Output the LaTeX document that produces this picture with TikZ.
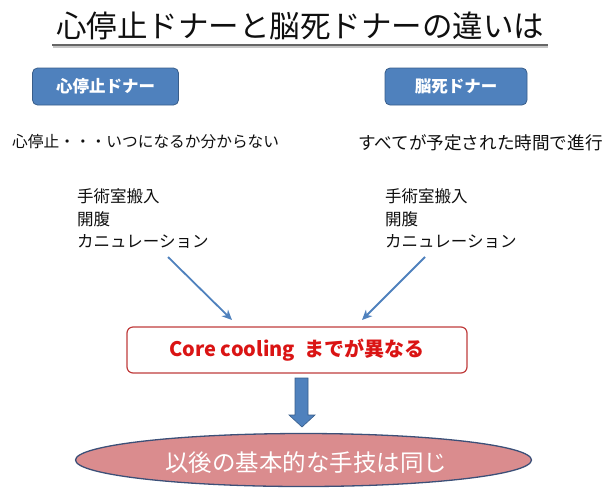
\documentclass[tikz,border=0pt]{standalone}
\usepackage{fontspec}
\setmainfont{Noto Sans CJK JP}
\usetikzlibrary{arrows.meta,shapes.geometric}
\definecolor{pptblue}{RGB}{79,129,189}
\definecolor{pptblueline}{RGB}{56,93,138}
\definecolor{ccred}{RGB}{218,20,20}
\definecolor{boxred}{RGB}{192,60,60}
\definecolor{ellfill}{RGB}{218,140,142}
\definecolor{ellline}{RGB}{60,80,120}
\definecolor{txt}{RGB}{15,15,15}
\tikzset{
  donorbox/.style={draw=pptblueline, fill=pptblue, rounded corners=5pt, line width=0.8pt,
    minimum width=146pt, minimum height=37pt, text=white, inner sep=0pt,
    font=\fontsize{16.5}{16.5}\selectfont\bfseries},
  bodytext/.style={text=txt, inner sep=0pt, anchor=west},
  listtext/.style={text=txt, inner sep=0pt, anchor=north west, align=left,
    font=\fontsize{16.5}{22.5}\selectfont},
  thinarrow/.style={draw=pptblue, line width=1.8pt,
    -{Stealth[length=10pt,width=9pt,inset=3pt]}},
}
\begin{document}
\begin{tikzpicture}[x=1pt,y=-1pt]
\useasboundingbox (0,0) rectangle (609,488);
% title
\node[text=txt, inner sep=0pt, font=\fontsize{30.5}{30.5}\selectfont] (title) at (300,26) {心停止ドナーと脳死ドナーの違いは};
\draw[gray!45, line width=2pt] (53,46.5) -- (548,46.5);
\draw[gray!80!black, line width=1.6pt] (52,45) -- (548,45);
% donor boxes
\node[donorbox] (heart) at (105.5,86.5) {心停止ドナー};
\node[donorbox, minimum width=142pt] (brain) at (456,86.5) {脳死ドナー};
% descriptions
\node[bodytext, font=\fontsize{15.7}{15.7}\selectfont] (hdesc) at (12,142) {心停止・・・いつになるか分からない};
\node[bodytext, font=\fontsize{17.6}{17.6}\selectfont] (bdesc) at (358,143) {すべてが予定された時間で進行};
% lists
\node[listtext] (hlist) at (77,188.5) {手術室搬入\\開腹\\カニュレーション};
\node[listtext] (blist) at (385,188.5) {手術室搬入\\開腹\\カニュレーション};
% red box
\node[draw=boxred, line width=1.2pt, rounded corners=6pt, fill=white,
  minimum width=340pt, minimum height=46pt, inner sep=0pt,
  text=ccred, font=\fontsize{20}{20}\selectfont\bfseries] (core) at (297,350)
  {Core cooling\hspace{0.25em} までが異なる};
% thin arrows
\coordinate (ha) at (168,257);
\coordinate (hb) at (232,320);
\coordinate (ba) at (425,257);
\coordinate (bb) at (362,320);
\draw[thinarrow] (ha) -- (hb);
\draw[thinarrow] (ba) -- (bb);
% block arrow
\draw[fill=pptblue, draw=pptblueline, line width=0.6pt]
  (295,378) -- (308,378) -- (308,415) -- (315,415) -- (302,427) -- (289,415) -- (295,415) -- cycle;
% ellipse
\node[ellipse, draw=ellline, line width=1.3pt, fill=ellfill,
  minimum width=456pt, minimum height=53pt, inner sep=0pt] (same) at (303.5,460) {};
\node[text=white, inner sep=0pt, font=\fontsize{23.5}{23.5}\selectfont] (sametext) at (306,463) {以後の基本的な手技は同じ};
\end{tikzpicture}
\end{document}
